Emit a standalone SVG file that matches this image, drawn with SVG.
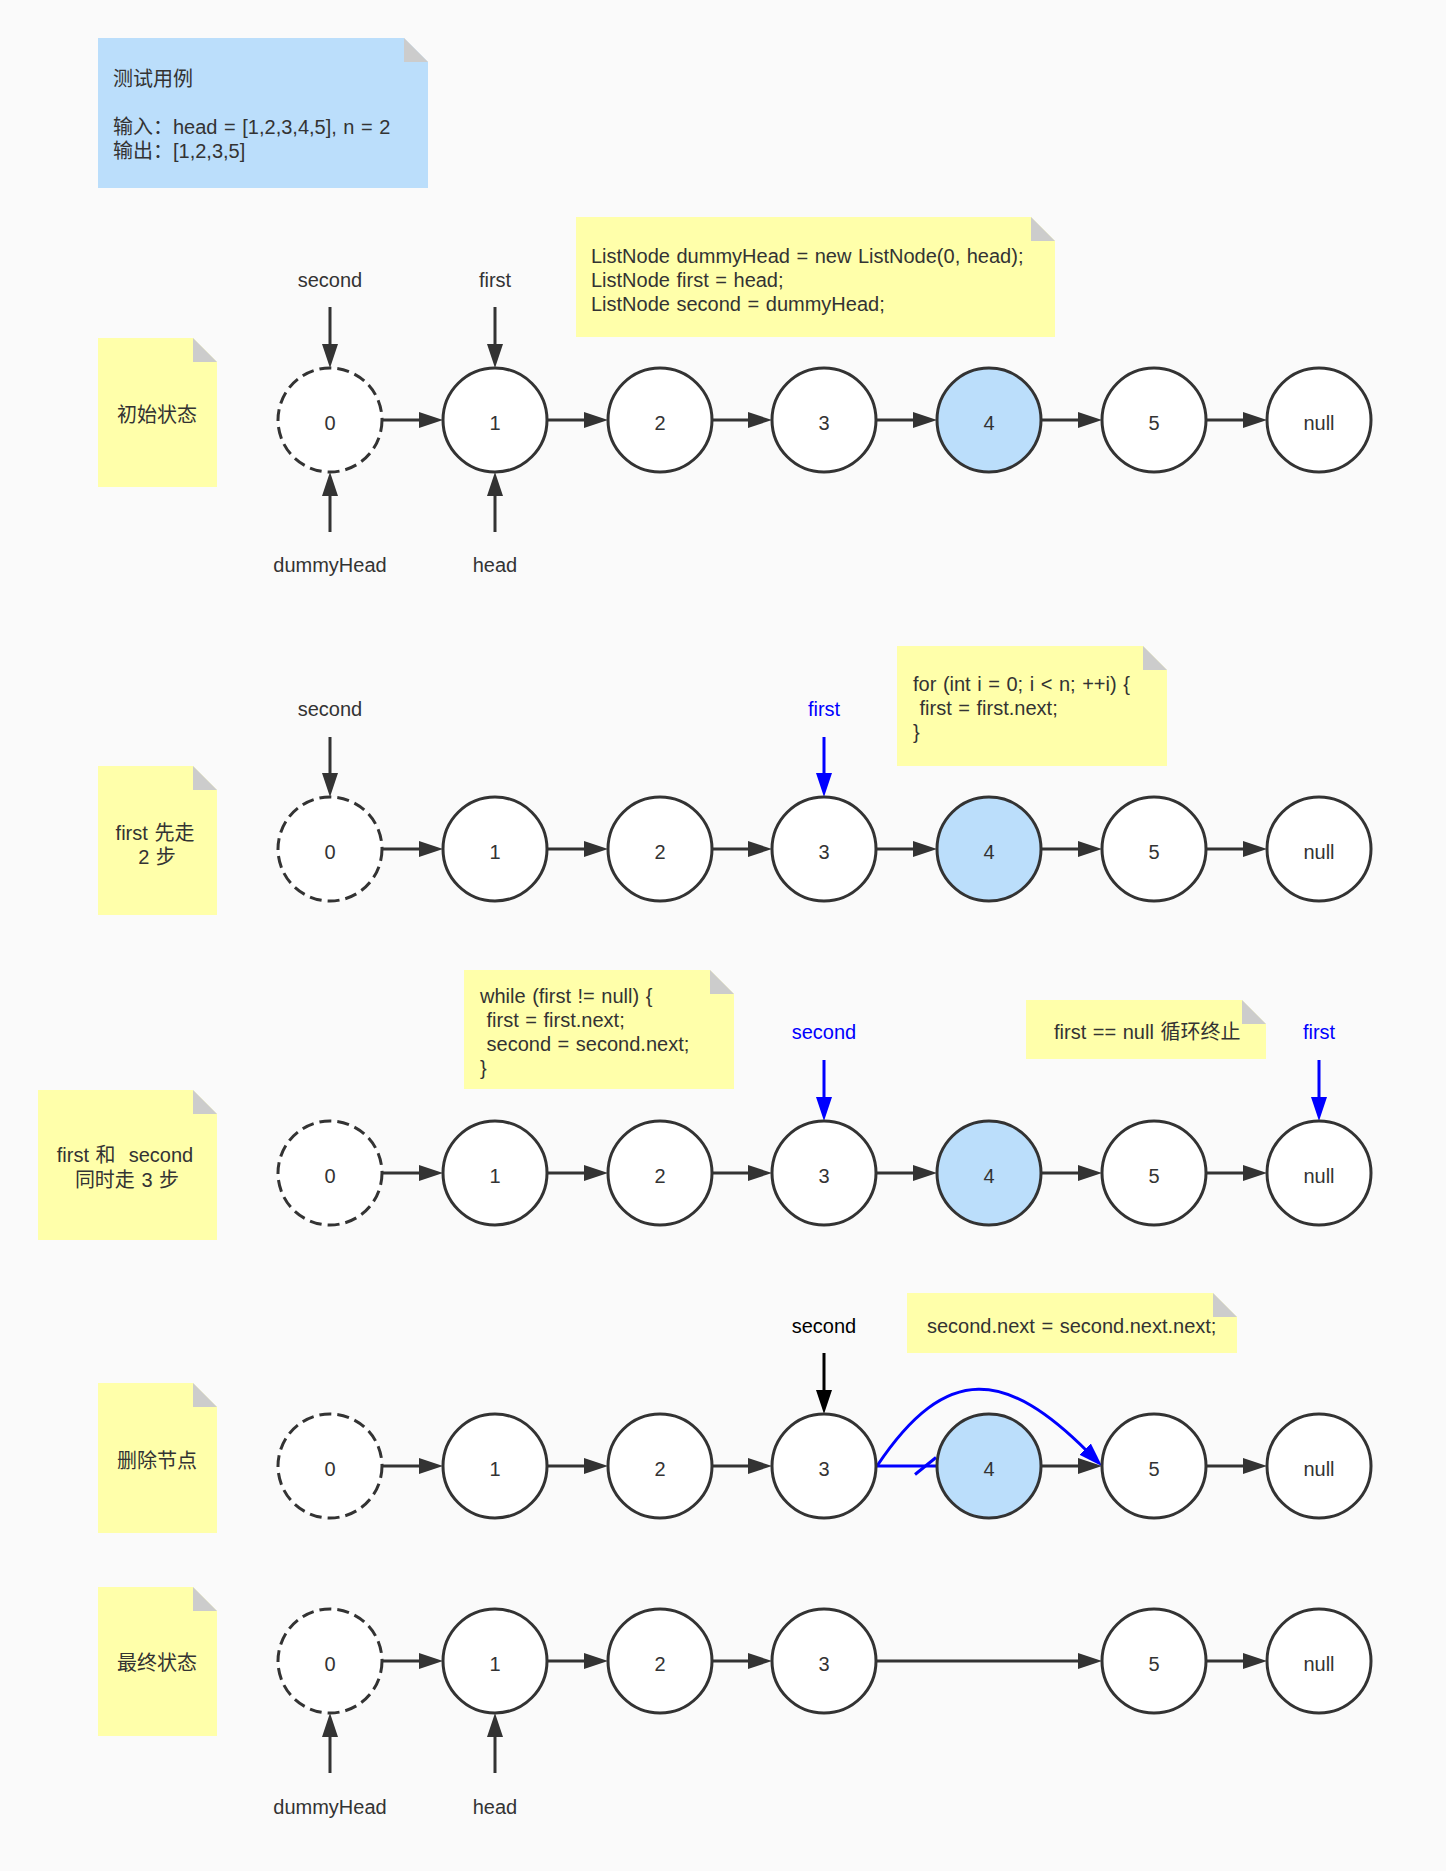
<svg xmlns="http://www.w3.org/2000/svg" width="1446" height="1871" viewBox="0 0 1446 1871">
<style>
text{font-family:"Liberation Sans","Noto Sans CJK SC",sans-serif;font-size:20px;fill:#333;word-spacing:1px}
.c{text-anchor:middle}
.blue{fill:#0000ff}
.blk{fill:#000}
.ny{fill:#ffffaa}
.nb{fill:#bbdefb}
.fold{fill:#cccccc}
.node{fill:#fff;stroke:#333;stroke-width:3}
.dash{stroke-dasharray:12 6}
.hl{fill:#bbdefb}
.ln{stroke:#333;stroke-width:3;fill:none;marker-end:url(#arr)}
.lnk{stroke:#000;stroke-width:3;fill:none;marker-end:url(#arrk)}
.lnb{stroke:#0000ff;stroke-width:3;fill:none;marker-end:url(#arrb)}
.bl{stroke:#0000ff;stroke-width:3;fill:none}
</style>
<defs>
<marker id="arr" markerUnits="userSpaceOnUse" markerWidth="24" markerHeight="16" refX="4" refY="8" orient="auto" viewBox="0 0 24 16"><path d="M0,0 L24,8 L0,16 z" fill="#333"/></marker>
<marker id="arrk" markerUnits="userSpaceOnUse" markerWidth="24" markerHeight="16" refX="4" refY="8" orient="auto" viewBox="0 0 24 16"><path d="M0,0 L24,8 L0,16 z" fill="#000"/></marker>
<marker id="arrb" markerUnits="userSpaceOnUse" markerWidth="24" markerHeight="16" refX="4" refY="8" orient="auto" viewBox="0 0 24 16"><path d="M0,0 L24,8 L0,16 z" fill="#0000ff"/></marker>
</defs>
<rect width="1446" height="1871" fill="#fafafa"/>

<!-- notes -->
<g id="note-test">
<polygon class="nb" points="98,38 404,38 428,62 428,188 98,188"/>
<polygon class="fold" points="404,38 404,62 428,62"/>
<text x="113" y="86">测试用例</text>
<text x="113" y="134">输入：head = [1,2,3,4,5], n = 2</text>
<text x="113" y="158">输出：[1,2,3,5]</text>
</g>
<g id="note-init">
<polygon class="ny" points="98,338 193,338 217,362 217,487 98,487"/>
<polygon class="fold" points="193,338 193,362 217,362"/>
<text class="c" x="157" y="422">初始状态</text>
</g>
<g id="note-code1">
<polygon class="ny" points="576,217 1031,217 1055,241 1055,337 576,337"/>
<polygon class="fold" points="1031,217 1031,241 1055,241"/>
<text x="591" y="263">ListNode dummyHead = new ListNode(0, head);</text>
<text x="591" y="287">ListNode first = head;</text>
<text x="591" y="311">ListNode second = dummyHead;</text>
</g>
<g id="note-step2">
<polygon class="ny" points="98,766 193,766 217,790 217,915 98,915"/>
<polygon class="fold" points="193,766 193,790 217,790"/>
<text class="c" x="155" y="840">first 先走</text>
<text class="c" x="157" y="864">2 步</text>
</g>
<g id="note-for">
<polygon class="ny" points="897,646 1143,646 1167,670 1167,766 897,766"/>
<polygon class="fold" points="1143,646 1143,670 1167,670"/>
<text x="913" y="691" xml:space="preserve">for (int i = 0; i &lt; n; ++i) {</text>
<text x="913" y="715" xml:space="preserve"> first = first.next;</text>
<text x="913" y="739">}</text>
</g>
<g id="note-while">
<polygon class="ny" points="464,970 710,970 734,994 734,1089 464,1089"/>
<polygon class="fold" points="710,970 710,994 734,994"/>
<text x="480" y="1003" xml:space="preserve">while (first != null) {</text>
<text x="480" y="1027" xml:space="preserve"> first = first.next;</text>
<text x="480" y="1051" xml:space="preserve"> second = second.next;</text>
<text x="480" y="1075">}</text>
</g>
<g id="note-stop">
<polygon class="ny" points="1026,1000 1242,1000 1266,1024 1266,1059 1026,1059"/>
<polygon class="fold" points="1242,1000 1242,1024 1266,1024"/>
<text x="1054" y="1039">first == null 循环终止</text>
</g>
<g id="note-step3">
<polygon class="ny" points="38,1090 193,1090 217,1114 217,1240 38,1240"/>
<polygon class="fold" points="193,1090 193,1114 217,1114"/>
<text class="c" x="125" y="1162" xml:space="preserve">first 和  second</text>
<text class="c" x="127" y="1187">同时走 3 步</text>
</g>
<g id="note-setnext">
<polygon class="ny" points="907,1293 1213,1293 1237,1317 1237,1353 907,1353"/>
<polygon class="fold" points="1213,1293 1213,1317 1237,1317"/>
<text x="927" y="1333">second.next = second.next.next;</text>
</g>
<g id="note-delete">
<polygon class="ny" points="98,1383 193,1383 217,1407 217,1533 98,1533"/>
<polygon class="fold" points="193,1383 193,1407 217,1407"/>
<text class="c" x="157" y="1468">删除节点</text>
</g>
<g id="note-final">
<polygon class="ny" points="98,1587 193,1587 217,1611 217,1736 98,1736"/>
<polygon class="fold" points="193,1587 193,1611 217,1611"/>
<text class="c" x="157" y="1670">最终状态</text>
</g>

<!-- connectors -->
<g id="connectors">
<!-- row 1 -->
<line class="ln" x1="382" y1="420" x2="423" y2="420"/>
<line class="ln" x1="547" y1="420" x2="588" y2="420"/>
<line class="ln" x1="712" y1="420" x2="752" y2="420"/>
<line class="ln" x1="876" y1="420" x2="917" y2="420"/>
<line class="ln" x1="1041" y1="420" x2="1082" y2="420"/>
<line class="ln" x1="1206" y1="420" x2="1247" y2="420"/>
<line class="ln" x1="330" y1="307" x2="330" y2="348"/>
<line class="ln" x1="495" y1="307" x2="495" y2="348"/>
<line class="ln" x1="330" y1="532" x2="330" y2="492"/>
<line class="ln" x1="495" y1="532" x2="495" y2="492"/>
<!-- row 2 -->
<line class="ln" x1="382" y1="849" x2="423" y2="849"/>
<line class="ln" x1="547" y1="849" x2="588" y2="849"/>
<line class="ln" x1="712" y1="849" x2="752" y2="849"/>
<line class="ln" x1="876" y1="849" x2="917" y2="849"/>
<line class="ln" x1="1041" y1="849" x2="1082" y2="849"/>
<line class="ln" x1="1206" y1="849" x2="1247" y2="849"/>
<line class="ln" x1="330" y1="737" x2="330" y2="777"/>
<line class="lnb" x1="824" y1="737" x2="824" y2="777"/>
<!-- row 3 -->
<line class="ln" x1="382" y1="1173" x2="423" y2="1173"/>
<line class="ln" x1="547" y1="1173" x2="588" y2="1173"/>
<line class="ln" x1="712" y1="1173" x2="752" y2="1173"/>
<line class="ln" x1="876" y1="1173" x2="917" y2="1173"/>
<line class="ln" x1="1041" y1="1173" x2="1082" y2="1173"/>
<line class="ln" x1="1206" y1="1173" x2="1247" y2="1173"/>
<line class="lnb" x1="824" y1="1060" x2="824" y2="1101"/>
<line class="lnb" x1="1319" y1="1060" x2="1319" y2="1101"/>
<!-- row 4 -->
<line class="ln" x1="382" y1="1466" x2="423" y2="1466"/>
<line class="ln" x1="547" y1="1466" x2="588" y2="1466"/>
<line class="ln" x1="712" y1="1466" x2="752" y2="1466"/>
<line class="bl" x1="876" y1="1466" x2="937" y2="1466"/>
<line class="bl" x1="915" y1="1474.5" x2="936" y2="1457.5"/>
<line class="ln" x1="1041" y1="1466" x2="1082" y2="1466"/>
<line class="ln" x1="1206" y1="1466" x2="1247" y2="1466"/>
<path class="lnb" d="M877,1466 C947,1361 1007,1371 1088,1452"/>
<line class="lnk" x1="824" y1="1353" x2="824" y2="1394"/>
<!-- row 5 -->
<line class="ln" x1="382" y1="1661" x2="423" y2="1661"/>
<line class="ln" x1="547" y1="1661" x2="588" y2="1661"/>
<line class="ln" x1="712" y1="1661" x2="752" y2="1661"/>
<line class="ln" x1="876" y1="1661" x2="1082" y2="1661"/>
<line class="ln" x1="1206" y1="1661" x2="1247" y2="1661"/>
<line class="ln" x1="330" y1="1773" x2="330" y2="1733"/>
<line class="ln" x1="495" y1="1773" x2="495" y2="1733"/>
</g>

<!-- pointer labels -->
<g id="labels">
<text class="c" x="330" y="287">second</text>
<text class="c" x="495" y="287">first</text>
<text class="c" x="330" y="572">dummyHead</text>
<text class="c" x="495" y="572">head</text>
<text class="c" x="330" y="716">second</text>
<text class="c blue" x="824" y="716">first</text>
<text class="c blue" x="824" y="1039">second</text>
<text class="c blue" x="1319" y="1039">first</text>
<text class="c blk" x="824" y="1333">second</text>
<text class="c" x="330" y="1814">dummyHead</text>
<text class="c" x="495" y="1814">head</text>
</g>

<!-- row 1 nodes -->
<g id="r1-n0"><circle class="node dash" cx="330" cy="420" r="52"/><text class="c" x="330" y="430">0</text></g>
<g id="r1-n1"><circle class="node" cx="495" cy="420" r="52"/><text class="c" x="495" y="430">1</text></g>
<g id="r1-n2"><circle class="node" cx="660" cy="420" r="52"/><text class="c" x="660" y="430">2</text></g>
<g id="r1-n3"><circle class="node" cx="824" cy="420" r="52"/><text class="c" x="824" y="430">3</text></g>
<g id="r1-n4"><circle class="node hl" cx="989" cy="420" r="52"/><text class="c" x="989" y="430">4</text></g>
<g id="r1-n5"><circle class="node" cx="1154" cy="420" r="52"/><text class="c" x="1154" y="430">5</text></g>
<g id="r1-null"><circle class="node" cx="1319" cy="420" r="52"/><text class="c" x="1319" y="430">null</text></g>
<!-- row 2 nodes -->
<g id="r2-n0"><circle class="node dash" cx="330" cy="849" r="52"/><text class="c" x="330" y="859">0</text></g>
<g id="r2-n1"><circle class="node" cx="495" cy="849" r="52"/><text class="c" x="495" y="859">1</text></g>
<g id="r2-n2"><circle class="node" cx="660" cy="849" r="52"/><text class="c" x="660" y="859">2</text></g>
<g id="r2-n3"><circle class="node" cx="824" cy="849" r="52"/><text class="c" x="824" y="859">3</text></g>
<g id="r2-n4"><circle class="node hl" cx="989" cy="849" r="52"/><text class="c" x="989" y="859">4</text></g>
<g id="r2-n5"><circle class="node" cx="1154" cy="849" r="52"/><text class="c" x="1154" y="859">5</text></g>
<g id="r2-null"><circle class="node" cx="1319" cy="849" r="52"/><text class="c" x="1319" y="859">null</text></g>
<!-- row 3 nodes -->
<g id="r3-n0"><circle class="node dash" cx="330" cy="1173" r="52"/><text class="c" x="330" y="1183">0</text></g>
<g id="r3-n1"><circle class="node" cx="495" cy="1173" r="52"/><text class="c" x="495" y="1183">1</text></g>
<g id="r3-n2"><circle class="node" cx="660" cy="1173" r="52"/><text class="c" x="660" y="1183">2</text></g>
<g id="r3-n3"><circle class="node" cx="824" cy="1173" r="52"/><text class="c" x="824" y="1183">3</text></g>
<g id="r3-n4"><circle class="node hl" cx="989" cy="1173" r="52"/><text class="c" x="989" y="1183">4</text></g>
<g id="r3-n5"><circle class="node" cx="1154" cy="1173" r="52"/><text class="c" x="1154" y="1183">5</text></g>
<g id="r3-null"><circle class="node" cx="1319" cy="1173" r="52"/><text class="c" x="1319" y="1183">null</text></g>
<!-- row 4 nodes -->
<g id="r4-n0"><circle class="node dash" cx="330" cy="1466" r="52"/><text class="c" x="330" y="1476">0</text></g>
<g id="r4-n1"><circle class="node" cx="495" cy="1466" r="52"/><text class="c" x="495" y="1476">1</text></g>
<g id="r4-n2"><circle class="node" cx="660" cy="1466" r="52"/><text class="c" x="660" y="1476">2</text></g>
<g id="r4-n3"><circle class="node" cx="824" cy="1466" r="52"/><text class="c" x="824" y="1476">3</text></g>
<g id="r4-n4"><circle class="node hl" cx="989" cy="1466" r="52"/><text class="c" x="989" y="1476">4</text></g>
<g id="r4-n5"><circle class="node" cx="1154" cy="1466" r="52"/><text class="c" x="1154" y="1476">5</text></g>
<g id="r4-null"><circle class="node" cx="1319" cy="1466" r="52"/><text class="c" x="1319" y="1476">null</text></g>
<!-- row 5 nodes -->
<g id="r5-n0"><circle class="node dash" cx="330" cy="1661" r="52"/><text class="c" x="330" y="1671">0</text></g>
<g id="r5-n1"><circle class="node" cx="495" cy="1661" r="52"/><text class="c" x="495" y="1671">1</text></g>
<g id="r5-n2"><circle class="node" cx="660" cy="1661" r="52"/><text class="c" x="660" y="1671">2</text></g>
<g id="r5-n3"><circle class="node" cx="824" cy="1661" r="52"/><text class="c" x="824" y="1671">3</text></g>
<g id="r5-n5"><circle class="node" cx="1154" cy="1661" r="52"/><text class="c" x="1154" y="1671">5</text></g>
<g id="r5-null"><circle class="node" cx="1319" cy="1661" r="52"/><text class="c" x="1319" y="1671">null</text></g>
</svg>
